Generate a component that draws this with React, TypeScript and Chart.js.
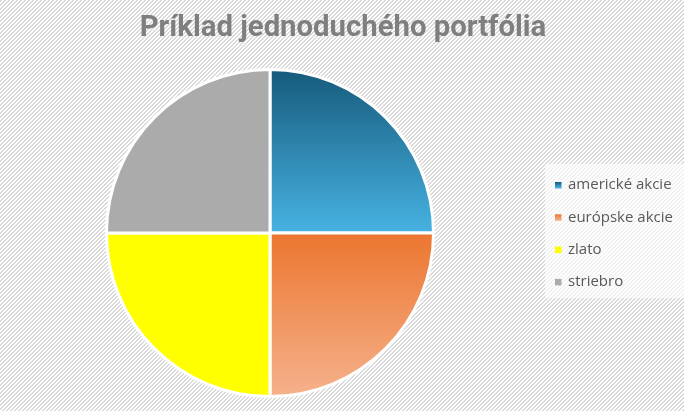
import React, { useEffect, useRef } from "react";
import { Chart, registerables } from "chart.js";

Chart.register(...registerables);

const chartTitle = "Príklad jednoduchého portfólia";
const categories = ["americké akcie", "európske akcie", "zlato", "striebro"];
const values = [25, 25, 25, 25];
// [top colour, bottom colour] of each slice's vertical gradient
const sliceColors: [string, string][] = [
  ["#165a7b", "#47b2e2"],
  ["#ec7630", "#f5b28c"],
  ["#ffff00", "#ffff00"],
  ["#ababab", "#ababab"],
];

const W = 684;
const H = 411;

function sliceFill(ctx: any): any {
  const i = ctx.dataIndex;
  const chart = ctx.chart;
  const area = chart.chartArea;
  const [c0, c1] = sliceColors[i];
  if (!area || c0 === c1) return c0;
  const cy = (area.top + area.bottom) / 2;
  const r = Math.min(area.width, area.height) / 2;
  let y0 = cy - r;
  let y1 = cy;
  if (i === 1) {
    y0 = cy;
    y1 = cy + r;
  }
  const g = chart.ctx.createLinearGradient(0, y0, 0, y1);
  g.addColorStop(0, c0);
  g.addColorStop(1, c1);
  return g;
}

const backgroundPlugin = {
  id: "hatchBackground",
  beforeDraw(chart: any) {
    const ctx = chart.ctx;
    const tile = document.createElement("canvas");
    tile.width = 4;
    tile.height = 4;
    const t = tile.getContext("2d")!;
    t.fillStyle = "#ffffff";
    t.fillRect(0, 0, 4, 4);
    t.fillStyle = "#dadada";
    for (let x = 0; x < 4; x++) {
      for (let y = 0; y < 4; y++) {
        if ((x + y) % 4 < 2) t.fillRect(x, y, 1, 1);
      }
    }
    const pat = ctx.createPattern(tile, "repeat");
    ctx.save();
    ctx.fillStyle = pat;
    ctx.fillRect(0, 0, chart.width, chart.height);
    ctx.restore();
  },
};

const titleLegendPlugin = {
  id: "titleLegend",
  afterDraw(chart: any) {
    const ctx = chart.ctx;
    ctx.save();
    // title
    ctx.fillStyle = "#7f7f7f";
    ctx.font = "bold 29.3px Roboto, sans-serif";
    ctx.textAlign = "center";
    ctx.textBaseline = "alphabetic";
    ctx.fillText(chartTitle, 343, 36);

    // legend box
    const bx = 545;
    const by = 164;
    ctx.fillStyle = "rgba(255,255,255,0.65)";
    ctx.fillRect(bx, by, W - bx, 134);

    ctx.font = "15px 'Open Sans', sans-serif";
    ctx.textAlign = "left";
    ctx.textBaseline = "middle";
    categories.forEach((label, i) => {
      const y = 185 + i * 32.3;
      const [c0, c1] = sliceColors[i];
      const g = ctx.createLinearGradient(0, y - 3, 0, y + 3);
      g.addColorStop(0, c0);
      g.addColorStop(1, c1);
      ctx.fillStyle = g;
      ctx.fillRect(555, y - 3, 6.5, 6.5);
      ctx.fillStyle = "#595959";
      ctx.fillText(label, 568, y);
    });
    ctx.restore();
  },
};

export default function App() {
  const ref = useRef<HTMLCanvasElement | null>(null);

  useEffect(() => {
    const canvas = ref.current!;
    const chart = new Chart(canvas, {
      type: "pie",
      data: {
        labels: categories,
        datasets: [
          {
            data: values,
            backgroundColor: sliceFill as any,
            borderColor: "#ffffff",
            borderWidth: 3,
          },
        ],
      },
      options: {
        responsive: false,
        animation: false,
        devicePixelRatio: 1,
        layout: {
          padding: { left: 105, right: 249, top: 68, bottom: 13 },
        },
        plugins: {
          legend: { display: false },
          title: { display: false },
          tooltip: { enabled: false },
        },
      },
      plugins: [backgroundPlugin, titleLegendPlugin],
    });
    return () => chart.destroy();
  }, []);

  return (
    <div style={{ position: "fixed", left: 0, top: 0, width: W, height: H }}>
      <canvas ref={ref} width={W} height={H} style={{ display: "block" }} />
    </div>
  );
}
